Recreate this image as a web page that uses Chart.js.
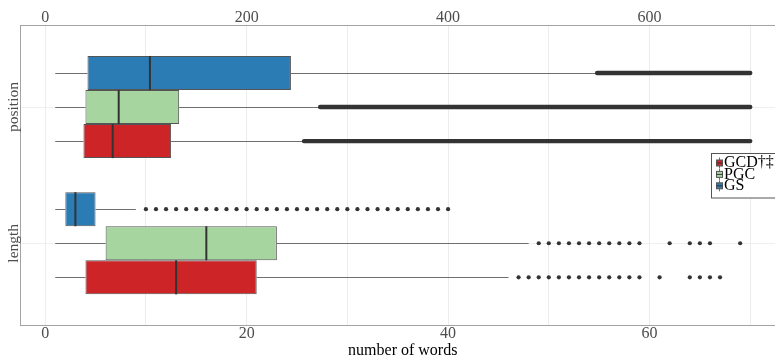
<!DOCTYPE html>
<html>
<head>
<meta charset="utf-8">
<script src="https://cdn.jsdelivr.net/npm/chart.js@4/dist/chart.umd.min.js"></script>
<style>
  html, body { margin: 0; padding: 0; overflow: hidden; background: #fff; }
  #wrap { width: 785px; height: 359px; }
</style>
</head>
<body>
<div id="wrap"><canvas id="c" width="785" height="359"></canvas></div>
<script>
// Categories on the vertical axis and the three systems compared in each
const categories = ['position', 'length'];
const systems = ['GS', 'PGC', 'GCD†‡'];

// position (top axis): five-number summaries per system
const posMin    = [10, 10, 10];
const posQ1     = [42, 40, 38];
const posMedian = [104, 73, 67];
const posQ3     = [244, 133, 125];
const posMax    = [547, 272, 256];
// outliers are packed so densely that they form a continuous run
const posOutlierRange = [[548, 700], [273, 700], [257, 700]];

// length (bottom axis, number of words)
const lenMin    = [1, 1, 1];
const lenQ1     = [2, 6, 4];
const lenMedian = [3, 16, 13];
const lenQ3     = [5, 23, 21];
const lenMax    = [9, 48, 46];
const lenOutliers = [
  [10, 11, 12, 13, 14, 15, 16, 17, 18, 19, 20, 21, 22, 23, 24, 25, 26, 27, 28, 29, 30,
   31, 32, 33, 34, 35, 36, 37, 38, 39, 40],
  [49, 50, 51, 52, 53, 54, 55, 56, 57, 58, 59, 62, 64, 65, 66, 69],
  [47, 48, 49, 50, 51, 52, 53, 54, 55, 56, 57, 58, 59, 61, 64, 65, 66, 67]
];

// tick labels
const lengthTicks = [0, 20, 40, 60];
const positionTicks = [0, 200, 400, 600];

const fillColors = ['#2b7bb4', '#a7d5a0', '#cd2428'];
const SERIF = "'Liberation Serif', 'DejaVu Serif', serif";

// one floating bar (Q1..Q3) per category and system
const datasets = [];
categories.forEach((cat, ci) => {
  const isPos = cat === 'position';
  systems.forEach((sys, si) => {
    datasets.push({
      label: sys,
      stack: sys,
      xAxisID: isPos ? 'x2' : 'x',
      data: [{ x: [isPos ? posQ1[si] : lenQ1[si], isPos ? posQ3[si] : lenQ3[si]], y: ci + 1 }],
      backgroundColor: fillColors[si],
      borderColor: '#555555',
      borderWidth: 1,
      borderSkipped: false,
      stats: isPos
        ? { min: posMin[si], median: posMedian[si], max: posMax[si], range: posOutlierRange[si] }
        : { min: lenMin[si], median: lenMedian[si], max: lenMax[si], points: lenOutliers[si] }
    });
  });
});

// whiskers, medians and outliers on top of the bars
const boxParts = {
  id: 'boxParts',
  beforeDatasetsDraw(chart) {
    const ctx = chart.ctx;
    ctx.save();
    chart.data.datasets.forEach((ds, i) => {
      const el = chart.getDatasetMeta(i).data[0];
      const sc = chart.scales[ds.xAxisID];
      const st = ds.stats;
      const y = Math.round(el.y) + 0.5;
      ctx.strokeStyle = '#6f6f6f';
      ctx.lineWidth = 1.1;
      ctx.beginPath();
      ctx.moveTo(sc.getPixelForValue(st.min), y);
      ctx.lineTo(sc.getPixelForValue(ds.data[0].x[0]), y);
      ctx.moveTo(sc.getPixelForValue(ds.data[0].x[1]), y);
      ctx.lineTo(sc.getPixelForValue(st.max), y);
      ctx.stroke();
      ctx.fillStyle = '#333333';
      ctx.strokeStyle = '#333333';
      if (st.range) {
        ctx.lineWidth = 4.4;
        ctx.lineCap = 'round';
        ctx.beginPath();
        ctx.moveTo(sc.getPixelForValue(st.range[0]), el.y);
        ctx.lineTo(sc.getPixelForValue(st.range[1]), el.y);
        ctx.stroke();
        ctx.lineCap = 'butt';
      }
      if (st.points) {
        st.points.forEach(v => {
          ctx.beginPath();
          ctx.arc(sc.getPixelForValue(v), el.y, 2.1, 0, Math.PI * 2);
          ctx.fill();
        });
      }
    });
    ctx.restore();
  },
  afterDatasetsDraw(chart) {
    const ctx = chart.ctx;
    ctx.save();
    chart.data.datasets.forEach((ds, i) => {
      const el = chart.getDatasetMeta(i).data[0];
      const sc = chart.scales[ds.xAxisID];
      const x = sc.getPixelForValue(ds.stats.median);
      ctx.strokeStyle = '#333333';
      ctx.lineWidth = 2;
      ctx.beginPath();
      ctx.moveTo(x, el.y - el.height / 2);
      ctx.lineTo(x, el.y + el.height / 2);
      ctx.stroke();
    });
    ctx.restore();
  }
};

// rotated category names and the boxed legend
const annotations = {
  id: 'annotations',
  afterDraw(chart) {
    const ctx = chart.ctx;
    const ys = chart.scales.y;
    ctx.save();
    ctx.fillStyle = '#4d4d4d';
    ctx.font = '15.5px ' + SERIF;
    ctx.textAlign = 'center';
    ctx.textBaseline = 'middle';
    categories.forEach((cat, ci) => {
      ctx.save();
      ctx.translate(13.5, ys.getPixelForValue(ci + 1));
      ctx.rotate(-Math.PI / 2);
      ctx.fillText(cat, 0, 0);
      ctx.restore();
    });

    // legend
    const lx = 711.5, ly = 153.5, lw = 90, lh = 44.5;
    ctx.fillStyle = '#ffffff';
    ctx.fillRect(lx, ly, lw, lh);
    ctx.strokeStyle = '#555555';
    ctx.lineWidth = 1;
    ctx.strokeRect(lx, ly, lw, lh);
    ctx.font = '16px ' + SERIF;
    ctx.textAlign = 'left';
    ctx.textBaseline = 'middle';
    const order = [2, 1, 0];
    order.forEach((si, row) => {
      const cy = 163 + row * 11.4;
      const kx = 716.5, kw = 6;
      ctx.strokeStyle = '#6f6f6f';
      ctx.beginPath();
      ctx.moveTo(kx + kw / 2, cy - 5.5);
      ctx.lineTo(kx + kw / 2, cy + 5.5);
      ctx.stroke();
      ctx.fillStyle = fillColors[si];
      ctx.fillRect(kx, cy - 3, kw, 6);
      ctx.strokeStyle = '#555555';
      ctx.strokeRect(kx, cy - 3, kw, 6);
      ctx.strokeStyle = '#333333';
      ctx.beginPath();
      ctx.moveTo(kx, cy);
      ctx.lineTo(kx + kw, cy);
      ctx.stroke();
      ctx.fillStyle = '#000000';
      ctx.fillText(systems[si], 724, cy);
    });
    ctx.restore();
  }
};

new Chart(document.getElementById('c'), {
  type: 'bar',
  data: { datasets },
  plugins: [boxParts, annotations],
  options: {
    indexAxis: 'y',
    responsive: false,
    animation: false,
    categoryPercentage: 0.75,
    barPercentage: 1,
    layout: { padding: { left: 20.5, top: 9.3, right: 0, bottom: 0 } },
    plugins: { legend: { display: false }, tooltip: { enabled: false } },
    scales: {
      y: {
        type: 'linear',
        reverse: true,
        min: 0.4,
        max: 2.6,
        offset: false,
        afterBuildTicks: (s) => { s.ticks = categories.map((c, i) => ({ value: i + 1 })); },
        ticks: { display: false },
        grid: { color: '#efefef', drawTicks: false, offset: false },
        border: { color: '#a3a3a3' }
      },
      x: {
        type: 'linear',
        position: 'bottom',
        stacked: false,
        min: -2.45,
        max: 73.45,
        ticks: {
          stepSize: 10,
          includeBounds: false,
          autoSkip: false,
          maxRotation: 0,
          padding: 1,
          color: '#4d4d4d',
          font: { family: SERIF, size: 16, lineHeight: 1 },
          callback: (v) => lengthTicks.includes(v) ? String(v) : ''
        },
        grid: { color: '#ececec', drawTicks: false },
        border: { color: '#a3a3a3' },
        title: {
          display: true,
          text: 'number of words',
          color: '#000000',
          padding: 0,
          font: { family: SERIF, size: 16, lineHeight: 1 }
        }
      },
      x2: {
        type: 'linear',
        position: 'top',
        stacked: false,
        min: -24.5,
        max: 734.5,
        ticks: {
          stepSize: 200,
          includeBounds: false,
          autoSkip: false,
          maxRotation: 0,
          padding: 0,
          color: '#4d4d4d',
          font: { family: SERIF, size: 16, lineHeight: 1 },
          callback: (v) => positionTicks.includes(v) ? String(v) : ''
        },
        grid: { display: false, drawTicks: false },
        border: { color: '#a3a3a3' }
      }
    }
  }
});
</script>
</body>
</html>
